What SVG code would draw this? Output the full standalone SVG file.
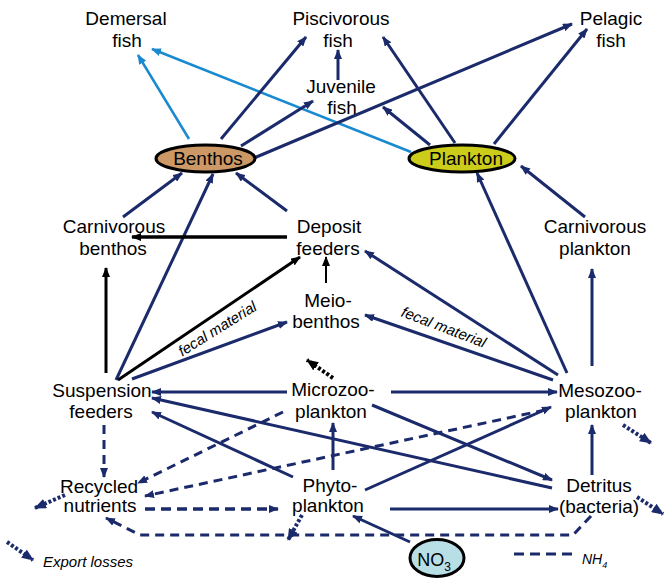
<svg xmlns="http://www.w3.org/2000/svg" width="665" height="578" viewBox="0 0 665 578">
<defs>
<style>
.t{font-family:"Liberation Sans",Arial,sans-serif;font-size:19px;text-anchor:middle;fill:#000}
.i{font-family:"Liberation Sans",Arial,sans-serif;font-style:italic;fill:#000}
.n{stroke:#1b2a6b;stroke-width:3;fill:none;marker-end:url(#an)}
.k{stroke:#000;stroke-width:3;fill:none;marker-end:url(#ak)}
.b{stroke:#1a8ad0;stroke-width:2.5;fill:none;marker-end:url(#ab)}
.d{stroke:#1b2a6b;stroke-width:3;fill:none;stroke-dasharray:9 6;marker-end:url(#an)}
.dd{stroke:#1b2a6b;stroke-width:3.5;fill:none;stroke-dasharray:10 6}
.o{stroke:#1b2a6b;stroke-width:4;fill:none;stroke-dasharray:3 2;marker-end:url(#ao)}
.ok{stroke:#000;stroke-width:4;fill:none;stroke-dasharray:3 2;marker-end:url(#aok)}
.e{stroke:#000;stroke-width:3}
</style>
<marker id="an" viewBox="0 0 10 8" refX="9" refY="4" markerWidth="10" markerHeight="8" markerUnits="userSpaceOnUse" orient="auto"><path d="M0,0L10,4L0,8z" fill="#1b2a6b"/></marker>
<marker id="ak" viewBox="0 0 10 8" refX="9" refY="4" markerWidth="10" markerHeight="8" markerUnits="userSpaceOnUse" orient="auto"><path d="M0,0L10,4L0,8z" fill="#000"/></marker>
<marker id="ab" viewBox="0 0 10 8" refX="9" refY="4" markerWidth="10" markerHeight="8" markerUnits="userSpaceOnUse" orient="auto"><path d="M0,0L10,4L0,8z" fill="#1a8ad0"/></marker>
<marker id="ao" viewBox="0 0 12 10" refX="11" refY="5" markerWidth="12" markerHeight="10" markerUnits="userSpaceOnUse" orient="auto"><path d="M0,0L12,5L0,10z" fill="#1b2a6b"/></marker>
<marker id="aok" viewBox="0 0 12 10" refX="11" refY="5" markerWidth="12" markerHeight="10" markerUnits="userSpaceOnUse" orient="auto"><path d="M0,0L12,5L0,10z" fill="#000"/></marker>
</defs>

<g id="connectors">
<line class="b" x1="189" y1="139" x2="138" y2="55"/>
<line class="b" x1="411" y1="152" x2="152" y2="49"/>
<line class="n" x1="221" y1="139" x2="306" y2="37"/>
<line class="n" x1="241" y1="146" x2="313" y2="101"/>
<line class="n" x1="254" y1="158" x2="572" y2="24"/>
<line class="n" x1="430" y1="145" x2="383" y2="107"/>
<line class="n" x1="455" y1="143" x2="383" y2="37"/>
<line class="n" x1="494" y1="144" x2="587" y2="29"/>
<line class="n" x1="338" y1="80" x2="338" y2="50"/>
<line class="n" x1="123" y1="217" x2="182" y2="173"/>
<line class="n" x1="116" y1="380" x2="213" y2="174"/>
<line class="n" x1="287" y1="211" x2="236" y2="173"/>
<line class="n" x1="567" y1="373" x2="477" y2="173"/>
<line class="n" x1="585" y1="217" x2="521" y2="166"/>
<line class="n" x1="592" y1="366" x2="592" y2="269"/>
<line class="n" x1="558" y1="375" x2="365" y2="251"/>
<line class="n" x1="553" y1="380" x2="365" y2="315"/>
<line class="n" x1="132" y1="379" x2="287" y2="322"/>
<line class="n" x1="287" y1="392" x2="152" y2="392"/>
<line class="n" x1="391" y1="392" x2="557" y2="392"/>
<line class="n" x1="552" y1="488" x2="152" y2="398"/>
<line class="n" x1="293" y1="477" x2="152" y2="412"/>
<line class="n" x1="372" y1="405" x2="552" y2="480"/>
<line class="n" x1="365" y1="490" x2="551" y2="407"/>
<line class="n" x1="333" y1="470" x2="333" y2="423"/>
<line class="n" x1="390" y1="509" x2="558" y2="509"/>
<line class="n" x1="592" y1="475" x2="592" y2="425"/>
<line class="n" x1="410" y1="542" x2="353" y2="516"/>
<line class="k" x1="287" y1="237" x2="132" y2="237" style="stroke-width:3.5"/>
<line class="k" x1="106" y1="373" x2="106" y2="268"/>
<line class="k" x1="118" y1="380" x2="300" y2="257"/>
<line class="k" x1="326" y1="283" x2="326" y2="257" style="stroke-width:2"/>
<line class="d" x1="104" y1="425" x2="104" y2="477"/>
<line class="d" x1="283" y1="412" x2="138" y2="483"/>
<line class="d" x1="545" y1="410" x2="145" y2="496"/>
<line class="dd" x1="145" y1="509" x2="278" y2="509" style="marker-end:url(#an)"/>
<path class="d" d="M591,516 L573,535 L140,535 L106,518"/>
<line class="o" x1="65" y1="495" x2="35" y2="508"/>
<line class="o" x1="302" y1="515" x2="288" y2="540"/>
<line class="o" x1="623" y1="425" x2="651" y2="443"/>
<line class="o" x1="637" y1="497" x2="663" y2="514"/>
<line class="ok" x1="333" y1="378" x2="307" y2="360"/>
</g>

<g id="demersal"><text class="t" x="126" y="25">Demersal</text><text class="t" x="127" y="47">fish</text></g>
<g id="piscivorous"><text class="t" x="341" y="25">Piscivorous</text><text class="t" x="338" y="47">fish</text></g>
<g id="pelagic"><text class="t" x="611" y="25">Pelagic</text><text class="t" x="611" y="47">fish</text></g>
<g id="juvenile"><text class="t" x="341" y="93">Juvenile</text><text class="t" x="342" y="114">fish</text></g>
<g id="benthos"><ellipse class="e" cx="205.5" cy="158.5" rx="49.5" ry="13.5" fill="#CC9966"/><text class="t" x="208" y="165">Benthos</text></g>
<g id="plankton"><ellipse class="e" cx="462" cy="158.5" rx="53" ry="13.5" fill="#CCCC1A"/><text class="t" x="466" y="165">Plankton</text></g>
<g id="carnivorous-benthos"><text class="t" x="114" y="233">Carnivorous</text><text class="t" x="113" y="255">benthos</text></g>
<g id="deposit-feeders"><text class="t" x="329" y="233">Deposit</text><text class="t" x="328" y="255">feeders</text></g>
<g id="carnivorous-plankton"><text class="t" x="595" y="233">Carnivorous</text><text class="t" x="595" y="255">plankton</text></g>
<g id="meiobenthos"><text class="t" x="328" y="307">Meio-</text><text class="t" x="326" y="328">benthos</text></g>
<g id="suspension-feeders"><text class="t" x="102" y="397">Suspension</text><text class="t" x="101" y="418">feeders</text></g>
<g id="microzooplankton"><text class="t" x="333" y="396">Microzoo-</text><text class="t" x="331" y="418">plankton</text></g>
<g id="mesozooplankton"><text class="t" x="600" y="397">Mesozoo-</text><text class="t" x="601" y="418">plankton</text></g>
<g id="recycled-nutrients"><text class="t" x="99" y="493">Recycled</text><text class="t" x="100" y="512">nutrients</text></g>
<g id="phytoplankton"><text class="t" x="330" y="492">Phyto-</text><text class="t" x="328" y="512">plankton</text></g>
<g id="detritus"><text class="t" x="599" y="492">Detritus</text><text class="t" x="599" y="513">(bacteria)</text></g>
<g id="no3"><ellipse class="e" cx="437" cy="558" rx="27" ry="18.5" fill="#B8DEE6"/><text class="t" x="434" y="566" style="font-size:18px">NO<tspan dy="5" style="font-size:12px">3</tspan></text></g>

<g id="labels">
<text class="i" style="font-size:15px;text-anchor:middle" transform="translate(220,333) rotate(-32)">fecal material</text>
<text class="i" style="font-size:15px;text-anchor:middle" transform="translate(442,332) rotate(21)">fecal material</text>
</g>
<g id="legend">
<line class="o" x1="7" y1="542" x2="33" y2="560"/>
<text class="i" x="43" y="567" style="font-size:15px">Export losses</text>
<line class="dd" x1="514" y1="554" x2="573" y2="554" style="stroke-width:3"/>
<text class="i" x="582" y="564" style="font-size:14px">NH<tspan dy="4" style="font-size:9px">4</tspan></text>
</g>
</svg>
